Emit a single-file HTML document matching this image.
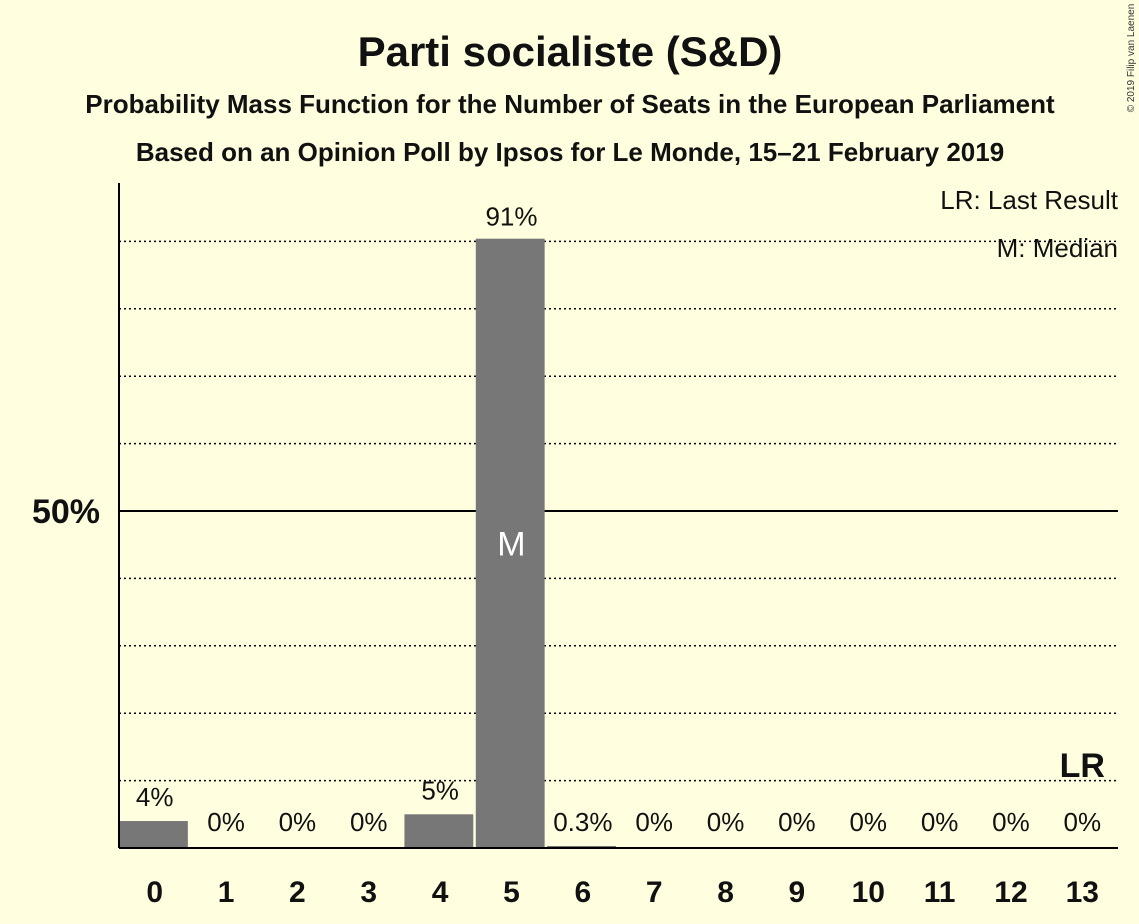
<!DOCTYPE html>
<html><head><meta charset="utf-8"><style>
html,body{margin:0;padding:0;background:#FFFFE0;}
svg{display:block;font-family:"Liberation Sans",sans-serif;}
</style></head><body>
<svg id="chart" width="1139" height="924" viewBox="0 0 1139 924">
<rect width="1139" height="924" fill="#FFFFE0"/>
<text x="570" y="66" text-anchor="middle" font-size="42" font-weight="bold" fill="#111">Parti socialiste (S&amp;D)</text>
<text x="570" y="113" text-anchor="middle" font-size="26" font-weight="bold" fill="#111">Probability Mass Function for the Number of Seats in the European Parliament</text>
<text x="570" y="161" text-anchor="middle" font-size="26" font-weight="bold" fill="#111">Based on an Opinion Poll by Ipsos for Le Monde, 15–21 February 2019</text>
<text x="1118" y="209" text-anchor="end" font-size="26" fill="#111">LR: Last Result</text>
<text x="1118" y="257" text-anchor="end" font-size="26" fill="#111">M: Median</text>
<text x="1134" y="58" transform="rotate(-90 1134 58)" text-anchor="middle" font-size="10" fill="#333">© 2019 Filip van Laenen</text>
<g id="grid"></g>
<g id="bars"></g>
<g id="labels"></g>
<line x1="119" y1="183" x2="119" y2="848" stroke="#000" stroke-width="2"/>
<line x1="119" y1="848" x2="1118" y2="848" stroke="#000" stroke-width="2"/>
</svg>
<script>
const categories=[0,1,2,3,4,5,6,7,8,9,10,11,12,13];
const values=[4,0,0,0,5,90.4,0.3,0,0,0,0,0,0,0];
const valueLabels=["4%","0%","0%","0%","5%","91%","0.3%","0%","0%","0%","0%","0%","0%","0%"];
const gridTicks=[10,20,30,40,60,70,80,90];
const majorTicks=[50];
const majorTickLabels=["50%"];
const medianSeat=5;
const lastResultSeat=13;

const NS="http://www.w3.org/2000/svg";
const x0=119,x1=1118,yBase=848,y50=511;
const slot=(x1-x0)/categories.length;
function y(v){return yBase-(yBase-y50)*v/50;}
function xc(i){return x0+slot*(i+0.5);}
function mk(tag,attrs,parent){const e=document.createElementNS(NS,tag);for(const k in attrs)e.setAttribute(k,attrs[k]);parent.appendChild(e);return e;}
const grid=document.getElementById('grid'),bars=document.getElementById('bars'),labels=document.getElementById('labels');
gridTicks.forEach(t=>{
 const l=mk('line',{x1:x0,x2:x1,y1:y(t),y2:y(t),stroke:'#000','stroke-width':1.5,'stroke-dasharray':'2,3'},grid);
 
 
});
majorTicks.forEach((t,i)=>{
 const l=mk('line',{x1:x0,x2:x1,y1:y(t),y2:y(t),stroke:'#000','stroke-width':2},grid);
 
 
 const tx=mk('text',{x:100,y:y(t)+12,'text-anchor':'end','font-size':34,'font-weight':'bold',fill:'#111'},labels);
 tx.textContent=majorTickLabels[i];
 
 
});
categories.forEach((c,i)=>{
 const bw=slot-2.5, bx=x0+slot*i;
 const h=yBase-y(values[i]);
 if(values[i]>0){
  const r=mk('rect',{x:bx,y:y(values[i]),width:bw,height:h,fill:'#777'},bars);
  
  
 }
 const big=values[i]>50;
 const ly=big?y(values[i])-13:Math.min(y(values[i])-15,yBase-17);
 const vl=mk('text',{x:xc(i),y:ly,'text-anchor':'middle','font-size':26,fill:'#111'},labels);
 vl.textContent=valueLabels[i];
 
 
 const xl=mk('text',{x:xc(i),y:902,'text-anchor':'middle','font-size':30,'font-weight':'bold',fill:'#111'},labels);
 xl.textContent=String(c);
 
 
 if(c===medianSeat){
  const m=mk('text',{x:xc(i),y:y(values[i]/2)+12,'text-anchor':'middle','font-size':34,fill:'#fff'},labels);
  m.textContent='M';
  
  
 }
 if(c===lastResultSeat){
  const lr=mk('text',{x:xc(i),y:777,'text-anchor':'middle','font-size':34,'font-weight':'bold',fill:'#111'},labels);
  lr.textContent='LR';
  
  
 }
});
</script>
</body></html>
